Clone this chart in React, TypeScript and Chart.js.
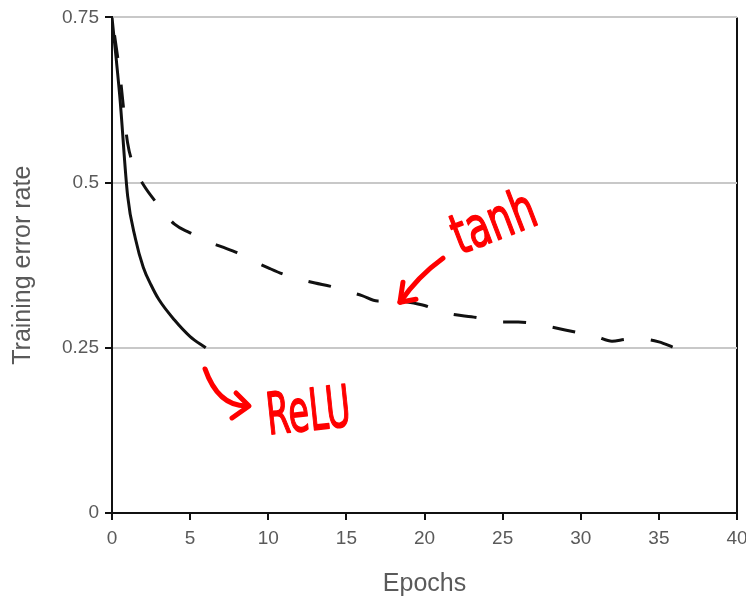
import React, { useEffect, useRef } from 'react';
import { Chart, registerables } from 'chart.js';

Chart.register(...registerables);

// ---- data ----
const reluEpochs = [0, 0.5, 1, 1.5, 2, 2.5, 3, 4, 5, 6];
const reluError = [0.75, 0.63, 0.48, 0.415, 0.372, 0.345, 0.323, 0.292, 0.267, 0.25];

const tanhEpochs = [0, 0.5, 1, 1.5, 2, 3, 4, 5, 6, 7, 8, 9, 10, 11, 12, 13, 14, 15, 16, 17, 18, 19, 20, 21, 22, 23, 24, 25, 26, 27, 28, 29, 30, 31, 32, 33, 34, 35, 36];
const tanhError = [0.75, 0.665, 0.56, 0.52, 0.497, 0.465, 0.437, 0.424, 0.412, 0.403, 0.394, 0.382, 0.371, 0.361, 0.354, 0.348, 0.343, 0.336, 0.329, 0.321, 0.322, 0.319, 0.314, 0.305, 0.3, 0.297, 0.293, 0.289, 0.289, 0.287, 0.282, 0.277, 0.272, 0.267, 0.26, 0.263, 0.263, 0.259, 0.25];

const yTickValues = [0, 0.25, 0.5, 0.75];
const yTickLabels = ['0', '0.25', '0.5', '0.75'];
const xTickValues = [0, 5, 10, 15, 20, 25, 30, 35, 40];

const xTitle = 'Epochs';
const yTitle = 'Training error rate';

// hand-written notes (anchored in data units)
const noteText = ['tanh', 'ReLU'];
const noteX = [24.5, 12.6];
const noteY = [0.435, 0.148];
const arrowTipX = [18.43, 8.77];
const arrowTipY = [0.319, 0.162];

const FONT = '"Liberation Sans", Arial, Helvetica, sans-serif';
const GREY_TEXT = '#5a5a5a';

function drawNote(ctx: CanvasRenderingContext2D, text: string, cx: number, cy: number, angle: number, size: number, sx: number) {
  ctx.save();
  ctx.translate(cx, cy);
  ctx.rotate(angle);
  ctx.scale(sx, 1);
  ctx.font = `${size}px "DejaVu Sans"`;
  ctx.textAlign = 'center';
  ctx.textBaseline = 'middle';
  ctx.lineWidth = 1.5;
  ctx.fillText(text, 0, 0);
  ctx.strokeText(text, 0, 0);
  ctx.restore();
}

const notesPlugin = {
  id: 'handNotes',
  afterDatasetsDraw(chart: any) {
    const { ctx, scales } = chart;
    const xs = scales.x;
    const ys = scales.y;
    ctx.save();
    ctx.strokeStyle = '#ff0000';
    ctx.fillStyle = '#ff0000';
    ctx.lineCap = 'round';
    ctx.lineJoin = 'round';

    drawNote(ctx, noteText[0], xs.getPixelForValue(noteX[0]), ys.getPixelForValue(noteY[0]), -21 * Math.PI / 180, 56, 0.68);
    drawNote(ctx, noteText[1], xs.getPixelForValue(noteX[1]), ys.getPixelForValue(noteY[1]), -6 * Math.PI / 180, 58, 0.58);

    // tanh arrow
    let tx = xs.getPixelForValue(arrowTipX[0]);
    let ty = ys.getPixelForValue(arrowTipY[0]);
    ctx.lineWidth = 5;
    ctx.beginPath();
    ctx.moveTo(tx + 43, ty - 44);
    ctx.quadraticCurveTo(tx + 18, ty - 26, tx, ty);
    ctx.stroke();
    ctx.beginPath();
    ctx.moveTo(tx + 3, ty - 20);
    ctx.lineTo(tx, ty);
    ctx.lineTo(tx + 16, ty - 3);
    ctx.stroke();

    // ReLU arrow
    tx = xs.getPixelForValue(arrowTipX[1]);
    ty = ys.getPixelForValue(arrowTipY[1]);
    ctx.beginPath();
    ctx.moveTo(tx - 44, ty - 37);
    ctx.quadraticCurveTo(tx - 31, ty, tx - 3, ty);
    ctx.stroke();
    ctx.beginPath();
    ctx.moveTo(tx - 13, ty - 13);
    ctx.lineTo(tx, ty);
    ctx.lineTo(tx - 17, ty + 12);
    ctx.stroke();
    ctx.restore();
  },
};

export default function App() {
  const canvasRef = useRef<HTMLCanvasElement | null>(null);

  useEffect(() => {
    if (!canvasRef.current) return;
    const chart = new Chart(canvasRef.current, {
      type: 'line',
      data: {
        datasets: [
          {
            label: 'ReLU',
            data: reluEpochs.map((e, i) => ({ x: e, y: reluError[i] })),
            borderColor: '#111111',
            borderWidth: 3,
            pointRadius: 0,
            fill: false,
            cubicInterpolationMode: 'monotone',
          },
          {
            label: 'tanh',
            data: tanhEpochs.map((e, i) => ({ x: e, y: tanhError[i] })),
            borderColor: '#111111',
            borderWidth: 3,
            borderDash: [23, 27],
            borderDashOffset: 32,
            pointRadius: 0,
            fill: false,
            cubicInterpolationMode: 'monotone',
          },
        ],
      },
      options: {
        responsive: false,
        animation: false,
        layout: { padding: { top: 17, right: 23, bottom: 0, left: 0 } },
        plugins: {
          legend: { display: false },
          tooltip: { enabled: false },
        },
        scales: {
          x: {
            type: 'linear',
            min: 0,
            max: 40,
            afterBuildTicks: (s: any) => {
              s.ticks = xTickValues.map((v) => ({ value: v }));
            },
            afterFit: (s: any) => {
              s.height = 83;
            },
            ticks: {
              font: { family: FONT, size: 19 },
              color: GREY_TEXT,
              padding: 7,
              maxRotation: 0,
              autoSkip: false,
            },
            grid: {
              color: (c: any) => (c.tick && c.tick.value === 40 ? '#111111' : 'rgba(0,0,0,0)'),
              lineWidth: 2,
              tickColor: '#111111',
              tickLength: 7,
              drawOnChartArea: true,
            },
            border: { color: '#111111', width: 2 },
            title: {
              display: true,
              text: xTitle,
              color: GREY_TEXT,
              font: { family: FONT, size: 25, lineHeight: 1 },
              padding: { top: 0, bottom: -1 },
            },
          },
          y: {
            type: 'linear',
            min: 0,
            max: 0.75,
            afterBuildTicks: (s: any) => {
              s.ticks = yTickValues.map((v) => ({ value: v }));
            },
            afterFit: (s: any) => {
              s.width = 112;
            },
            ticks: {
              font: { family: FONT, size: 19 },
              color: GREY_TEXT,
              padding: 6,
              callback: (v: any) => yTickLabels[yTickValues.indexOf(Number(v))] ?? String(v),
            },
            grid: {
              color: (c: any) => (c.tick && c.tick.value === 0 ? 'rgba(0,0,0,0)' : '#c8c8c8'),
              lineWidth: 2,
              tickColor: '#111111',
              tickLength: 7,
            },
            border: { color: '#111111', width: 2 },
            title: {
              display: true,
              text: yTitle,
              color: GREY_TEXT,
              font: { family: FONT, size: 25 },
              padding: { top: 8, bottom: 0 },
            },
          },
        },
      },
      plugins: [notesPlugin],
    } as any);
    return () => chart.destroy();
  }, []);

  return (
    <div
      style={{
        position: 'absolute',
        left: 0,
        top: 0,
        width: 746,
        height: 596,
        overflow: 'hidden',
        background: '#ffffff',
      }}
    >
      <canvas ref={canvasRef} width={760} height={596} style={{ display: 'block' }} />
    </div>
  );
}
